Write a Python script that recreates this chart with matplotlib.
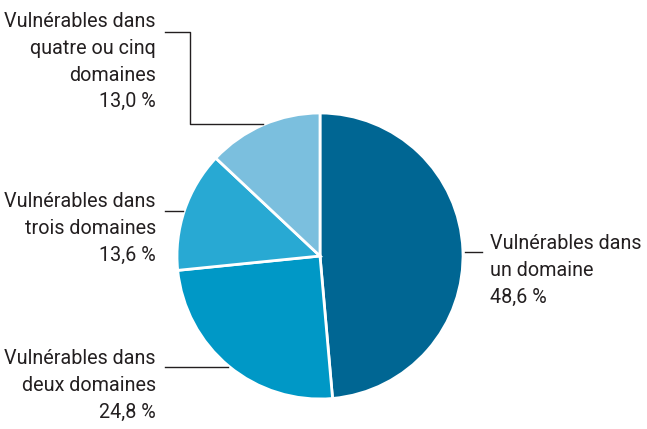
import matplotlib
matplotlib.use('Agg')
import matplotlib.pyplot as plt

categories = ['un domaine', 'deux domaines', 'trois domaines', 'quatre ou cinq\ndomaines']
shares = [48.6, 24.8, 13.6, 13.0]
colors = ['#006693', '#0098c6', '#28a9d3', '#7bbfde']

plt.rcParams['font.family'] = ['Liberation Sans Narrow', 'Roboto', 'DejaVu Sans']

W, H = 647, 429
fig = plt.figure(figsize=(W / 100, H / 100), dpi=100)
ax = fig.add_axes([0, 0, 1, 1])

def Y(y):
    # pixel row (from top) -> data y
    return H - y

# pie in pixel-like coordinates so labels are easy to place
ax.pie(shares, colors=colors, startangle=90, counterclock=False,
       center=(320, Y(256)), radius=143,
       wedgeprops=dict(edgecolor='white', linewidth=2))
ax.set_xlim(0, W)
ax.set_ylim(0, H)
ax.set_aspect('equal')
ax.axis('off')

def lab(i):
    return 'Vulnérables dans\n' + categories[i] + '\n' + ('%.1f' % shares[i]).replace('.', ',') + ' %'

fs = 14.2
ls = 1.52
tc = '#231f20'
# un domaine (right)
ax.text(490, Y(234), lab(0), ha='left', va='top', fontsize=fs, color=tc, linespacing=ls)
ax.plot([465, 482], [Y(252), Y(252)], color=tc, lw=1)
# deux domaines
ax.text(156, Y(349), lab(1), ha='right', va='top', fontsize=fs, color=tc, linespacing=ls, multialignment='right')
ax.plot([165, 228], [Y(367), Y(367)], color=tc, lw=1)
# trois domaines
ax.text(156, Y(192), lab(2), ha='right', va='top', fontsize=fs, color=tc, linespacing=ls, multialignment='right')
ax.plot([165, 183], [Y(211), Y(211)], color=tc, lw=1)
# quatre ou cinq domaines
ax.text(156, Y(12), lab(3), ha='right', va='top', fontsize=fs, color=tc, linespacing=ls, multialignment='right')
ax.plot([165, 190, 190, 263], [Y(32), Y(32), Y(124), Y(124)], color=tc, lw=1)

fig.savefig('out.png', dpi=100)
